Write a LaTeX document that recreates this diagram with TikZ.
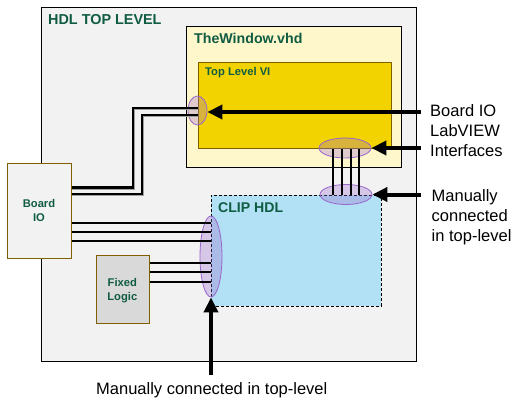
\documentclass[tikz,border=0pt]{standalone}
\usepackage{fontspec}
\setmainfont{Liberation Sans}
\usetikzlibrary{shapes.geometric,arrows.meta}
\definecolor{outerfill}{HTML}{F2F2F2}
\definecolor{winfill}{HTML}{FFF7CC}
\definecolor{vifill}{HTML}{F2D300}
\definecolor{olive}{HTML}{7F6000}
\definecolor{clipfill}{HTML}{B2E0F4}
\definecolor{fixfill}{HTML}{D9D9D9}
\definecolor{dgreen}{HTML}{0F5C42}
\definecolor{purp}{HTML}{9966CC}
\definecolor{shadowgray}{HTML}{A0A0A0}
\tikzset{
  box/.style={draw, line width=1pt, inner sep=0pt},
  title/.style={anchor=base west, inner sep=0pt, text=dgreen, font=\bfseries},
  port/.style={ellipse, draw=purp, line width=0.8pt, fill=purp, fill opacity=0.3, inner sep=0pt},
  sig/.style={line width=2pt},
  bigarrow/.style={line width=4pt, -{Triangle[length=15pt,width=14pt]}},
  lbl/.style={anchor=north west, inner sep=0pt, align=left, font=\fontsize{16.5}{19.8}\selectfont},
}
\begin{document}
\begin{tikzpicture}[x=1pt,y=-1pt]
\useasboundingbox (0,0) rectangle (523,412);
% boxes
\node[box, fill=outerfill, minimum width=375pt, minimum height=353pt, anchor=north west] (top) at (40.5,7.5) {};
\node[box, fill=winfill, minimum width=215pt, minimum height=141pt, anchor=north west] (win) at (186,26.5) {};
\node[box, draw=olive, fill=vifill, minimum width=193pt, minimum height=86pt, anchor=north west] (vi) at (198,62) {};
\node[draw, dashed, dash pattern=on 3pt off 2pt, line width=0.9pt, fill=clipfill, inner sep=0pt, minimum width=170pt, minimum height=111pt, anchor=north west] (clip) at (210.5,195) {};
\node[box, draw=olive, fill=outerfill, minimum width=63.5pt, minimum height=95pt, anchor=north west] (bio) at (7.3,163) {};
\node[box, draw=olive, fill=fixfill, minimum width=53.5pt, minimum height=68pt, anchor=north west] (fix) at (95.6,255) {};
% titles
\node[title, font=\bfseries\fontsize{14.4}{16}\selectfont] (ttop) at (48,25) {HDL TOP LEVEL};
\node[title, font=\bfseries\fontsize{14.2}{16}\selectfont] (twin) at (194,44) {TheWindow.vhd};
\node[title, font=\bfseries\fontsize{11.2}{13}\selectfont] (tvi) at (205,76) {Top Level VI};
\node[title, font=\bfseries\fontsize{14.1}{16}\selectfont] (tclip) at (218,212.7) {CLIP HDL};
\node[text=dgreen, inner sep=0pt, align=center, anchor=north, font=\bfseries\fontsize{11.2}{13.8}\selectfont] (tbio) at (39,199.2) {Board\\IO};
\node[text=dgreen, inner sep=0pt, align=center, anchor=north, font=\bfseries\fontsize{11.2}{13.8}\selectfont] (tfix) at (122.3,278) {Fixed\\Logic};
% ports
\node[port, minimum width=19pt, minimum height=29pt] (e1) at (197.5,110.5) {};
\node[port, minimum width=52pt, minimum height=20pt] (e2) at (345,148) {};
\node[port, minimum width=52pt, minimum height=20pt] (e3) at (346,194.5) {};
\node[port, minimum width=22pt, minimum height=81pt] (e4) at (211,256.5) {};
% double (shadowed) lines from Board IO to Top Level VI
\foreach \d/\c in {1.3/shadowgray, 0/black}{
  \draw[sig, color=\c, shift={(\d,\d)}] (bio.east |- 0,187.5) -- (133,187.5) -- (133,108) -- (vi.west |- 0,108);
  \draw[sig, color=\c, shift={(\d,\d)}] (bio.east |- 0,193.5) -- (141.8,193.5) -- (141.8,115) -- (vi.west |- 0,115);
}
% Board IO to CLIP
\foreach \y in {222.7,231.7,240.7}
  \draw[sig] (bio.east |- 0,\y) -- (clip.west |- 0,\y);
% Fixed logic to CLIP
\foreach \y in {263,272,281.7}
  \draw[sig] (fix.east |- 0,\y) -- (clip.west |- 0,\y);
% Top level VI to CLIP
\foreach \x in {333.3,342.3,350.7,359.3}
  \draw[line width=2.2pt] (vi.south -| \x,0) -- (clip.north -| \x,0);
% big arrows
\coordinate (a1) at (421,112);
\coordinate (a2) at (421,148);
\coordinate (a3) at (421,194.5);
\coordinate (a4) at (211,375);
\draw[bigarrow] (a1) -- (e1.east |- a1);
\draw[bigarrow] (a2) -- (e2.east);
\draw[bigarrow] (a3) -- (e3.east);
\draw[bigarrow] (a4) -- (e4.south);
% labels
\node[lbl] (l1) at (430,104.3) {Board IO\\LabVIEW\\Interfaces};
\node[lbl] (l2) at (431.5,189.8) {Manually\\connected\\in top-level};
\node[lbl] (l3) at (96,382.2) {Manually connected in top-level};
\end{tikzpicture}
\end{document}
